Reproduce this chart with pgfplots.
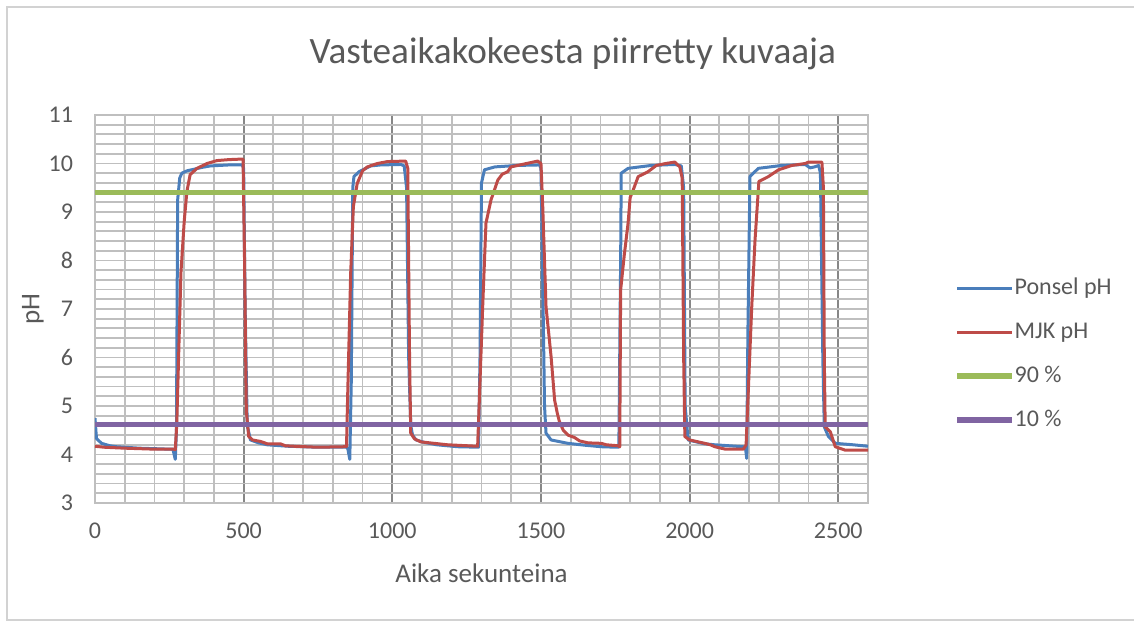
\documentclass[border=0pt]{standalone}
\usepackage{fontspec}
\setmainfont{Carlito}
\usepackage{pgfplots}
\pgfplotsset{compat=1.18}
\definecolor{ponsel}{HTML}{4A7EBB}
\definecolor{mjk}{HTML}{BE4B48}
\definecolor{ninety}{HTML}{9BBB59}
\definecolor{ten}{HTML}{8064A2}
\definecolor{txt}{HTML}{595959}
\definecolor{gridl}{HTML}{BFBFBF}
\definecolor{gridd}{HTML}{878787}

\begin{document}
\begin{tikzpicture}
\path[use as bounding box] (-47.5pt,-60.5pt) rectangle (519.5pt,251.5pt);
\draw[gridl!70, line width=0.6pt] (-44pt,-58.5pt) rectangle (530pt,248pt);
\begin{axis}[
    at={(0,0)}, anchor=south west,
    scale only axis, width=386.5pt, height=194pt,
    xmin=0, xmax=2600, ymin=3, ymax=11,
    xtick={0,500,...,2500}, ytick={3,...,11},
    minor x tick num=4, minor y tick num=4,
    grid=both,
    major x grid style={gridd, line width=0.9pt},
    minor x grid style={gridl, line width=0.9pt},
    major y grid style={gridl, line width=0.9pt},
    minor y grid style={gridl, line width=0.9pt},
    axis line style={gridl, line width=0.9pt},
    major tick length=0pt, minor tick length=0pt,
    /pgf/number format/assume math mode=true,
    /pgf/number format/1000 sep={},
    tick label style={font=\fontsize{12}{14}\selectfont, text=txt},
    xticklabel style={yshift=-6.5pt},
    yticklabel style={xshift=-7.5pt},
    title={Vasteaikakokeesta piirretty kuvaaja},
    title style={at={(rel axis cs:0.618,1)}, anchor=center, yshift=24.5pt,
        font=\fontsize{18.6}{22}\selectfont, text=txt},
    xlabel={Aika sekunteina},
    ylabel={pH},
    every axis x label/.append style={at={(rel axis cs:0.5,0)}, anchor=center,
        yshift=-35pt, font=\fontsize{13.5}{16}\selectfont, text=txt},
    every axis y label/.append style={at={(rel axis cs:-0.0802,0.5)}, anchor=center,
        font=\fontsize{13.5}{16}\selectfont, text=txt},
    legend style={at={(1.1035,0.384)}, anchor=west, draw=none, fill=none,
        font=\fontsize{12}{14}\selectfont, text=txt, row sep=10pt,
        nodes={inner sep=0pt, text height=9pt, text depth=3pt}},
    legend cell align=left,
    legend image code/.code={\draw[#1] (0pt,0pt) -- (27.5pt,0pt);},
]
\addplot[ponsel, line width=1.5pt, line join=round] coordinates {
    (0,4.75) (5,4.33) (22,4.23) (50,4.18) (73,4.16) (150,4.13) (250,4.11)
    (262,4.11) (270,3.9) (274,4.5) (278,9.25) (285,9.7) (292,9.8) (310,9.85)
    (332,9.88) (360,9.92) (388,9.95) (450,9.97) (495,9.97) (500,9.9) (505,7)
    (512,4.6) (523,4.3) (550,4.24) (579,4.2) (650,4.17) (750,4.15) (845,4.15)
    (850,4.13) (857,3.9) (862,5.5) (867,9.5) (871,9.73) (888,9.83) (927,9.95)
    (960,9.97) (1029,9.98) (1040,9.95) (1048,9.5) (1055,6) (1062,4.6)
    (1068,4.4) (1080,4.3) (1107,4.25) (1150,4.2) (1220,4.16) (1290,4.15)
    (1295,6) (1300,9.6) (1310,9.87) (1345,9.93) (1420,9.96) (1495,9.97)
    (1500,9.9) (1505,8) (1512,5) (1517,4.44) (1534,4.3) (1591,4.23)
    (1650,4.19) (1703,4.16) (1755,4.15) (1762,4.15) (1768,8) (1770,9.8)
    (1793,9.9) (1871,9.96) (1950,9.98) (1972,9.95) (1980,9.5) (1985,5)
    (1995,4.3) (2050,4.22) (2085,4.2) (2181,4.16) (2188,4.13) (2192,3.92)
    (2196,6.5) (2203,9.73) (2231,9.9) (2310,9.96) (2389,9.98) (2405,9.91)
    (2420,9.93) (2434,9.96) (2440,9.8) (2448,6) (2453,4.57) (2467,4.37)
    (2490,4.23) (2550,4.2) (2600,4.17)
};
\addplot[mjk, line width=1.5pt, line join=round] coordinates {
    (0,4.17) (30,4.15) (100,4.13) (200,4.11) (264,4.11) (270,4.1) (275,4.62)
    (289,7.74) (300,8.8) (309,9.42) (320,9.77) (343,9.9) (377,10.0)
    (410,10.06) (450,10.08) (489,10.09) (498,10.09) (503,8) (509,4.9)
    (517,4.37) (530,4.3) (556,4.27) (580,4.22) (624,4.22) (640,4.18)
    (669,4.17) (750,4.15) (837,4.16) (846,4.16) (849,5) (860,7.74) (869,9.11)
    (882,9.59) (900,9.85) (916,9.93) (950,10.0) (984,10.04) (1045,10.05)
    (1052,9.9) (1058,6) (1062,4.44) (1075,4.32) (1096,4.26) (1186,4.2)
    (1287,4.17) (1292,5) (1304,7.05) (1315,8.77) (1332,9.25) (1355,9.66)
    (1370,9.78) (1388,9.83) (1399,9.93) (1444,9.99) (1489,10.05) (1500,10.0)
    (1506,9.11) (1517,7.05) (1534,6.02) (1546,5.12) (1555,4.85) (1562,4.68)
    (1575,4.5) (1591,4.4) (1613,4.35) (1630,4.28) (1658,4.24) (1703,4.23)
    (1720,4.2) (1759,4.18) (1765,4.16) (1768,7.39) (1780,8.1) (1793,8.77)
    (1800,9.3) (1810,9.45) (1827,9.73) (1860,9.83) (1888,9.96) (1920,10.0)
    (1950,10.03) (1967,9.93) (1975,9.7) (1980,6) (1984,4.37) (2000,4.3)
    (2051,4.23) (2070,4.2) (2085,4.16) (2120,4.11) (2181,4.11) (2190,4.2)
    (2209,7.05) (2220,8.42) (2233,9.63) (2265,9.73) (2299,9.87) (2344,9.96)
    (2389,10.0) (2400,10.03) (2445,10.03) (2450,9.5) (2453,6) (2456,4.57)
    (2473,4.47) (2490,4.16) (2523,4.09) (2600,4.09)
};
\addplot[ninety, line width=2.6pt] coordinates {(0,9.41) (2600,9.41)};
\addplot[ten, line width=2.6pt] coordinates {(0,4.62) (2600,4.62)};
\legend{Ponsel pH, MJK pH, 90 \%, 10 \%}
\end{axis}
\end{tikzpicture}
\end{document}
